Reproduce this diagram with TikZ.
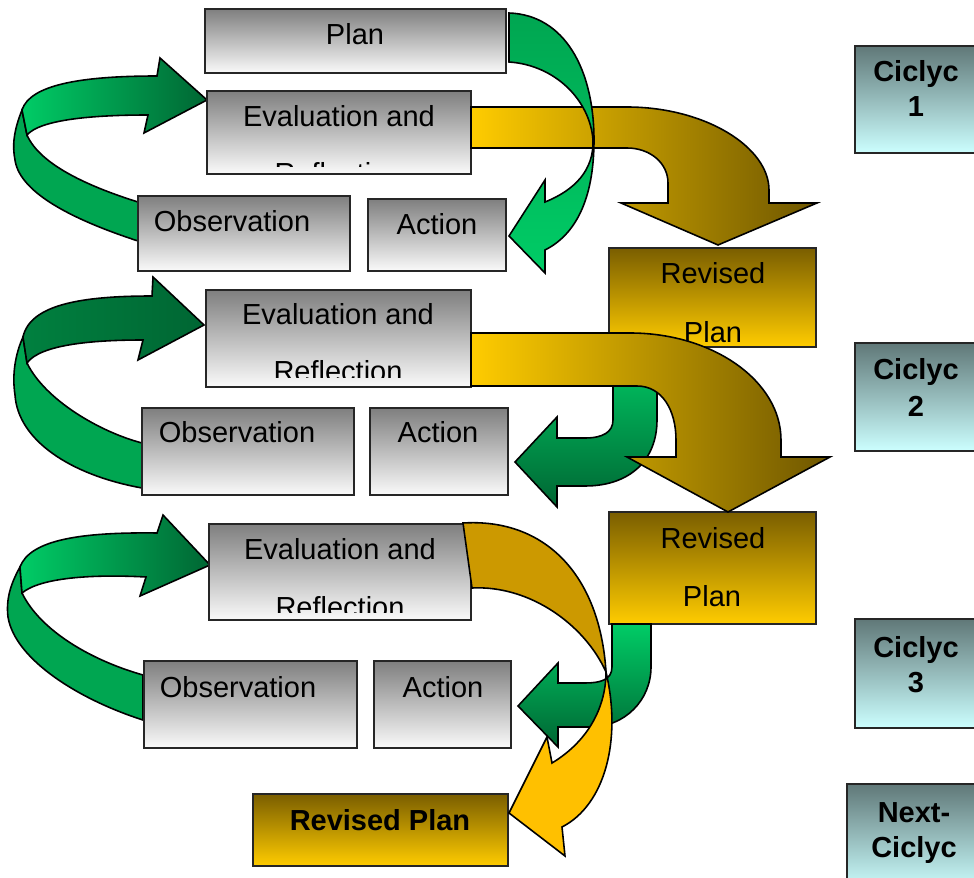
\documentclass[tikz,border=0pt]{standalone}
\usepackage{fontspec}
\setmainfont{Liberation Sans}

\definecolor{boxtop}{HTML}{7F7F7F}
\definecolor{boxbot}{HTML}{FAFAFA}
\definecolor{rptop}{HTML}{7A5E00}
\definecolor{rpbot}{HTML}{FFCC00}
\definecolor{cyctop}{HTML}{607878}
\definecolor{cycbot}{HTML}{CCFFFF}
\definecolor{gold}{HTML}{FFCC00}
\definecolor{goldmid}{HTML}{CCA300}
\definecolor{olive}{HTML}{6E5600}
\definecolor{dgold}{HTML}{CC9900}
\definecolor{amber}{HTML}{FFC000}
\definecolor{glight}{HTML}{00CC66}
\definecolor{gmid}{HTML}{00A651}
\definecolor{gdeep}{HTML}{00803F}
\definecolor{gdark}{HTML}{006633}

\begin{document}
\begin{tikzpicture}[x=0.02cm, y=-0.02cm,
  graybox/.style={draw=black!85, line width=0.9pt, top color=boxtop, bottom color=boxbot},
  goldbox/.style={draw=black!85, line width=0.9pt, top color=rptop, bottom color=rpbot},
  cycbox/.style={draw=black!85, line width=0.9pt, top color=cyctop, bottom color=cycbot},
  blockarr/.style={draw=black, line width=0.9pt},
  lbl/.style={anchor=base, inner sep=0pt, font=\fontsize{16.5}{20}\selectfont},
  blbl/.style={lbl, font=\fontsize{16.5}{20}\selectfont\bfseries}]
%% 1 unit = 1 px of the 974 x 878 page, y runs downwards
\useasboundingbox (0,0) rectangle (974,878);
\clip (0,0) rectangle (974,878);

%% ---- Left loops (behind the boxes) ----
\draw[blockarr, fill=gmid] (22,110) .. controls (14,130) and (12,145) .. (15,160)
  .. controls (20,195) and (80,222) .. (138,241) -- (138,202)
  .. controls (90,187) and (40,165) .. (27,135) -- cycle;
\draw[blockarr, left color=glight, right color=gdark] (22,110) .. controls (30,85) and (80,76) .. (157,76)
  -- (160,58) -- (207,100) -- (144,133) -- (148,115)
  .. controls (90,115) and (40,120) .. (27,135) -- cycle;

\draw[blockarr, fill=gmid] (23,337) .. controls (15,355) and (12,375) .. (15,395)
  .. controls (18,440) and (70,475) .. (142,488) -- (142,443)
  .. controls (100,432) and (45,400) .. (27,363) -- cycle;
\draw[blockarr, left color=gdeep, right color=gdark] (23,337) .. controls (30,305) and (80,296) .. (152,296)
  -- (153,277) -- (204,325) -- (138,360) -- (143,340)
  .. controls (90,340) and (40,345) .. (27,363) -- cycle;

\draw[blockarr, fill=gmid] (20,567) .. controls (10,585) and (6,600) .. (8,617)
  .. controls (15,660) and (80,700) .. (143,720) -- (143,675)
  .. controls (90,660) and (40,630) .. (22,593) -- cycle;
\draw[blockarr, left color=glight, right color=gdark] (20,567) .. controls (30,540) and (80,532) .. (157,533)
  -- (163,515) -- (210,565) -- (140,596) -- (146,577)
  .. controls (90,574) and (40,578) .. (22,593) -- cycle;

%% ---- Boxes ----
\draw[graybox] (205,9)   rectangle (506,73);
\draw[graybox] (207,91)  rectangle (471,174);
\draw[graybox] (138,196) rectangle (350,271);
\draw[graybox] (368,199) rectangle (506,271);

\draw[graybox] (206,290) rectangle (471,387);
\draw[graybox] (142,408) rectangle (354,495);
\draw[graybox] (370,408) rectangle (508,495);

\draw[graybox] (209,524) rectangle (471,620);
\draw[graybox] (144,661) rectangle (357,748);
\draw[graybox] (374,661) rectangle (511,748);

\draw[goldbox] (609,248) rectangle (816,347);
\draw[goldbox] (609,512) rectangle (816,624);
\draw[goldbox] (253,794) rectangle (508,866);

\draw[cycbox] (855,46)  rectangle (990,153);
\draw[cycbox] (855,343) rectangle (990,451);
\draw[cycbox] (855,619) rectangle (990,728);
\draw[cycbox] (847,784) rectangle (990,890);

%% ---- Labels ----
\node[lbl] (plantxt) at (355,45) {Plan};
\node[lbl] (eval1) at (339,127) {Evaluation and};
\begin{scope}
  \clip (207,91) rectangle (471,167);
  \node[lbl] (refl1) at (339,184) {Reflection};
\end{scope}
\node[lbl] (obs1) at (232,232) {Observation};
\node[lbl] (act1) at (437,235) {Action};

\node[lbl] (eval2) at (338,325) {Evaluation and};
\begin{scope}
  \clip (206,290) rectangle (471,378);
  \node[lbl] (refl2) at (338,382) {Reflection};
\end{scope}
\node[lbl] (obs2) at (237,443) {Observation};
\node[lbl] (act2) at (438,443) {Action};

\node[lbl] (eval3) at (340,560) {Evaluation and};
\begin{scope}
  \clip (209,524) rectangle (471,612);
  \node[lbl] (refl3) at (340,617) {Reflection};
\end{scope}
\node[lbl] (obs3) at (238,697) {Observation};
\node[lbl] (act3) at (443,697) {Action};

\node[lbl] (rev1a) at (713,284) {Revised};
\node[lbl] (rev1b) at (713,343) {Plan};
\node[lbl] (rev2a) at (713,548) {Revised};
\node[lbl] (rev2b) at (712,606) {Plan};
\node[blbl] (rev3) at (380,830) {Revised Plan};

\node[blbl] (cyc1a) at (916,82)  {Ciclyc};
\node[blbl] (cyc1b) at (916,117) {1};
\node[blbl] (cyc2a) at (916,380) {Ciclyc};
\node[blbl] (cyc2b) at (916,417) {2};
\node[blbl] (cyc3a) at (916,657) {Ciclyc};
\node[blbl] (cyc3b) at (916,692) {3};
\node[blbl] (nexta) at (914,822) {Next-};
\node[blbl] (nextb) at (914,857) {Ciclyc};

%% ---- Cycle 1 arrows ----
\draw[blockarr, left color=gold, middle color=goldmid, right color=olive]
  (471,107) -- (627,107) .. controls (705,107) and (769,147) .. (769,190)
  -- (769,203) -- (817,203) -- (718,245) -- (621,203) -- (668,203) -- (668,183)
  .. controls (668,163) and (650,148) .. (627,148) -- (471,148) -- cycle;
\draw[blockarr, top color=gmid, bottom color=glight]
  (509,13) .. controls (565,15) and (594,70) .. (594,140)
  .. controls (594,200) and (575,235) .. (545,250)
  -- (545,273) -- (509,236) -- (545,180) -- (545,202)
  .. controls (575,190) and (594,170) .. (593,140)
  .. controls (590,100) and (555,65) .. (509,62) -- cycle;

%% ---- Cycle 2 arrows ----
\draw[blockarr, top color=glight, bottom color=gdark]
  (613,347) -- (613,420) .. controls (613,432) and (603,438) .. (585,438)
  -- (557,438) -- (557,417) -- (515,462) -- (557,507) -- (557,486) -- (585,486)
  .. controls (630,486) and (657,460) .. (657,420) -- (657,347) -- cycle;
\draw[blockarr, left color=gold, middle color=goldmid, right color=olive]
  (471,333) -- (630,333) .. controls (713,333) and (781,381) .. (781,440)
  -- (781,457) -- (830,457) -- (728,512) -- (627,457) -- (676,457) -- (676,440)
  .. controls (676,410) and (662,386) .. (637,386) -- (471,386) -- cycle;

%% ---- Cycle 3 arrows ----
\draw[blockarr, top color=glight, bottom color=gdark]
  (612,624) -- (612,667) .. controls (612,680) and (600,683) .. (585,683)
  -- (558,683) -- (558,663) -- (518,706) -- (558,747) -- (558,727) -- (590,727)
  .. controls (625,727) and (651,700) .. (651,667) -- (651,624) -- cycle;
\draw[blockarr, fill=dgold]
  (463,523) .. controls (545,518) and (600,575) .. (606,672)
  .. controls (585,625) and (530,585) .. (472,588) -- cycle;
\draw[blockarr, fill=amber]
  (606,672) .. controls (606,705) and (590,740) .. (552,763)
  -- (547,737) -- (509,813) -- (565,856) -- (562,827)
  .. controls (605,805) and (622,740) .. (606,672) -- cycle;
\end{tikzpicture}
\end{document}
